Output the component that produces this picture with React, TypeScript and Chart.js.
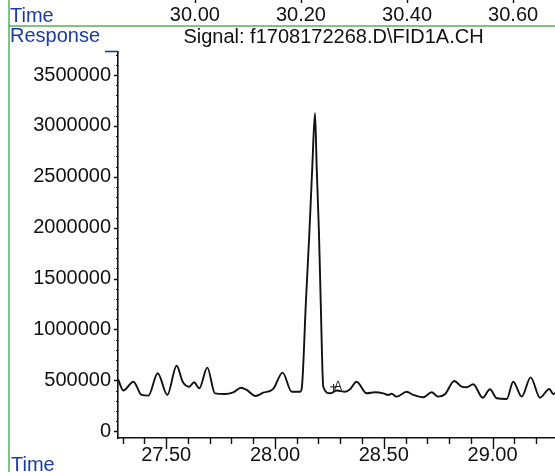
import React, { useEffect, useRef } from 'react';
import { Chart, registerables } from 'chart.js';

Chart.register(...registerables);

// ---- data (retention time in minutes, detector response) ----
const times = [
  27.279, 27.303, 27.349, 27.387, 27.418, 27.461, 27.505, 27.548, 27.576, 27.606,
  27.628, 27.652, 27.689, 27.724, 27.770, 27.808, 27.844, 27.870, 27.911, 27.946,
  27.992, 28.035, 28.077, 28.115, 28.123, 28.1425, 28.158, 28.1715, 28.184, 28.1916,
  28.2022, 28.210, 28.222, 28.253, 28.284, 28.322, 28.345, 28.375, 28.421, 28.460,
  28.498, 28.521, 28.536, 28.559, 28.605, 28.636, 28.682, 28.720, 28.750, 28.781,
  28.824, 28.858, 28.881, 28.911, 28.955, 28.988, 29.019, 29.065, 29.095, 29.134,
  29.175, 29.218, 29.261, 29.279, 29.290,
];
const responses = [
  510000, 400000, 487000, 357000, 350000, 570000, 357000, 644000, 487000, 438000,
  481000, 422000, 625000, 373000, 366000, 383000, 428000, 406000, 347000, 379000,
  416000, 576000, 389000, 389000, 422000, 1290000, 1945000, 2599000, 3124000, 2599000,
  1945000, 1290000, 438000, 373000, 400000, 389000, 413000, 487000, 373000, 383000,
  373000, 357000, 369000, 340000, 389000, 357000, 334000, 383000, 340000, 363000,
  494000, 438000, 432000, 462000, 330000, 413000, 324000, 317000, 487000, 340000,
  530000, 330000, 416000, 366000, 380000,
];

// ---- axes ----
const bottomRange = [27.2785, 29.287];
const bottomMajorTicks = [27.5, 28.0, 28.5, 29.0];
const bottomMinorTicks = [
  27.3, 27.4, 27.6, 27.7, 27.8, 27.9, 28.1, 28.2, 28.3, 28.4,
  28.6, 28.7, 28.8, 28.9, 29.1, 29.2,
];
const topRange = [29.855, 30.679];
const topTicks = [30.0, 30.2, 30.4, 30.6];
const yRange = [-66000, 3726000];
const yTicks = [0, 500000, 1000000, 1500000, 2000000, 2500000, 3000000, 3500000];
const yMinorTicks = [
  100000, 200000, 300000, 400000, 600000, 700000, 800000, 900000,
  1100000, 1200000, 1300000, 1400000, 1600000, 1700000, 1800000, 1900000,
  2100000, 2200000, 2300000, 2400000, 2600000, 2700000, 2800000, 2900000,
  3100000, 3200000, 3300000, 3400000, 3600000, 3700000,
];

// ---- texts ----
const signalTitle = 'Signal: f1708172268.D\\FID1A.CH';
const axisNameTime = 'Time';
const axisNameResponse = 'Response';
const markerLabel = 'A';
const markerTime = 28.281;
const markerResponse = 436000;

const FONT = '"Liberation Sans", Arial, Helvetica, sans-serif';
const INK = '#111111';
const BLUE = '#1b3c9e';
const GREEN = '#58b058';

const zeroPadding = (s: any) => {
  s.paddingLeft = 0;
  s.paddingRight = 0;
  s.paddingTop = 0;
  s.paddingBottom = 0;
};

const decor = {
  id: 'decor',
  afterDraw(chart: any) {
    const { ctx, chartArea, scales } = chart;
    const x = scales.x;
    const y = scales.y;
    const x2 = scales.x2;
    const W = chart.width;
    const H = chart.height;
    ctx.save();

    // green frame lines
    ctx.strokeStyle = GREEN;
    ctx.lineWidth = 1.5;
    ctx.beginPath();
    ctx.moveTo(9, 0);
    ctx.lineTo(9, H);
    ctx.moveTo(9, 26);
    ctx.lineTo(W, 26);
    ctx.stroke();

    // bottom axis tick marks
    ctx.strokeStyle = INK;
    ctx.lineWidth = 1.4;
    ctx.beginPath();
    bottomMinorTicks.forEach((v) => {
      const px = Math.round(x.getPixelForValue(v)) + 0.5;
      ctx.moveTo(px, chartArea.bottom);
      ctx.lineTo(px, chartArea.bottom + 6);
    });
    bottomMajorTicks.forEach((v) => {
      const px = Math.round(x.getPixelForValue(v)) + 0.5;
      ctx.moveTo(px, chartArea.bottom);
      ctx.lineTo(px, chartArea.bottom + 11);
    });
    // y axis ticks
    yTicks.forEach((v) => {
      const py = Math.round(y.getPixelForValue(v)) + 0.5;
      ctx.moveTo(chartArea.left, py);
      ctx.lineTo(chartArea.left - 4, py);
    });
    // top axis ticks (clipped at the top edge)
    topTicks.forEach((v) => {
      const px = Math.round(x2.getPixelForValue(v)) + 0.5;
      ctx.moveTo(px, 0);
      ctx.lineTo(px, 3);
    });
    ctx.stroke();

    ctx.lineWidth = 1;
    ctx.beginPath();
    yMinorTicks.forEach((v) => {
      const py = Math.round(y.getPixelForValue(v)) + 0.5;
      ctx.moveTo(chartArea.left, py);
      ctx.lineTo(chartArea.left - 2, py);
    });
    ctx.stroke();

    // "Response_" bracket into the axis
    ctx.strokeStyle = BLUE;
    ctx.lineWidth = 1.6;
    ctx.beginPath();
    ctx.moveTo(105, chartArea.top - 0.5);
    ctx.lineTo(chartArea.left + 0.5, chartArea.top - 0.5);
    ctx.stroke();

    // axis names
    ctx.font = `20px ${FONT}`;
    ctx.fillStyle = BLUE;
    ctx.textAlign = 'left';
    ctx.textBaseline = 'alphabetic';
    ctx.fillText(axisNameTime, 10, 22);
    ctx.fillText(axisNameResponse, 10, 42);
    ctx.fillText(axisNameTime, 11, 471);

    // signal title
    ctx.fillStyle = INK;
    ctx.textAlign = 'center';
    ctx.fillText(signalTitle, (chartArea.left + chartArea.right) / 2 - 3, 43);

    // integration marker
    const mx = x.getPixelForValue(markerTime);
    const my = y.getPixelForValue(markerResponse);
    ctx.font = `12px ${FONT}`;
    ctx.textBaseline = 'middle';
    ctx.fillText(markerLabel, mx + 2, my);
    ctx.strokeStyle = INK;
    ctx.lineWidth = 1;
    ctx.beginPath();
    ctx.moveTo(mx - 6, my);
    ctx.lineTo(mx + 1, my);
    ctx.moveTo(mx - 2.5, my - 3);
    ctx.lineTo(mx - 2.5, my + 4);
    ctx.stroke();

    ctx.restore();
  },
};

export default function App() {
  const ref = useRef<HTMLCanvasElement | null>(null);

  useEffect(() => {
    if (!ref.current) return;
    const tickFont = { family: FONT, size: 20 };
    const chart = new Chart(ref.current, {
      type: 'line',
      data: {
        datasets: [
          {
            data: times.map((t, i) => ({ x: t, y: responses[i] })),
            xAxisID: 'x',
            yAxisID: 'y',
            borderColor: INK,
            borderWidth: 1.9,
            pointRadius: 0,
            fill: false,
            cubicInterpolationMode: 'monotone',
          },
        ],
      },
      options: {
        animation: false,
        responsive: false,
        events: [],
        layout: { padding: { left: 8, right: 0, top: 0, bottom: 0 }, autoPadding: false },
        plugins: {
          legend: { display: false },
          tooltip: { enabled: false },
          title: { display: false },
        },
        scales: {
          x: {
            type: 'linear',
            position: 'bottom',
            min: bottomRange[0],
            max: bottomRange[1],
            grid: { display: false, drawTicks: false },
            border: { display: true, color: INK, width: 1.6 },
            ticks: {
              padding: 5,
              font: tickFont,
              color: INK,
              maxRotation: 0,
              autoSkip: false,
              callback: (v: any) => Number(v).toFixed(2),
            },
            afterBuildTicks: (s: any) => {
              s.ticks = bottomMajorTicks.map((v) => ({ value: v }));
            },
            afterFit: (s: any) => {
              s.height = 34;
              zeroPadding(s);
            },
          },
          x2: {
            type: 'linear',
            position: 'top',
            axis: 'x',
            min: topRange[0],
            max: topRange[1],
            grid: { display: false, drawTicks: false },
            border: { display: false },
            ticks: {
              padding: 25,
              font: tickFont,
              color: INK,
              maxRotation: 0,
              autoSkip: false,
              callback: (v: any) => Number(v).toFixed(2),
            },
            afterBuildTicks: (s: any) => {
              s.ticks = topTicks.map((v) => ({ value: v }));
            },
            afterFit: (s: any) => {
              s.height = 52;
              zeroPadding(s);
            },
          },
          y: {
            type: 'linear',
            position: 'left',
            min: yRange[0],
            max: yRange[1],
            grid: { display: false, drawTicks: false },
            border: { display: true, color: INK, width: 1.6 },
            ticks: {
              padding: 7,
              font: tickFont,
              color: INK,
              autoSkip: false,
              callback: (v: any) => String(v),
            },
            afterBuildTicks: (s: any) => {
              s.ticks = yTicks.map((v) => ({ value: v }));
            },
            afterFit: (s: any) => {
              s.width = 110;
              zeroPadding(s);
            },
          },
        },
      } as any,
      plugins: [decor],
    });
    return () => chart.destroy();
  }, []);

  return (
    <div
      style={{
        position: 'fixed',
        left: 0,
        top: 0,
        width: 555,
        height: 472,
        background: '#fff',
      }}
    >
      <canvas ref={ref} width={555} height={472} style={{ display: 'block', width: 555, height: 472 }} />
    </div>
  );
}
